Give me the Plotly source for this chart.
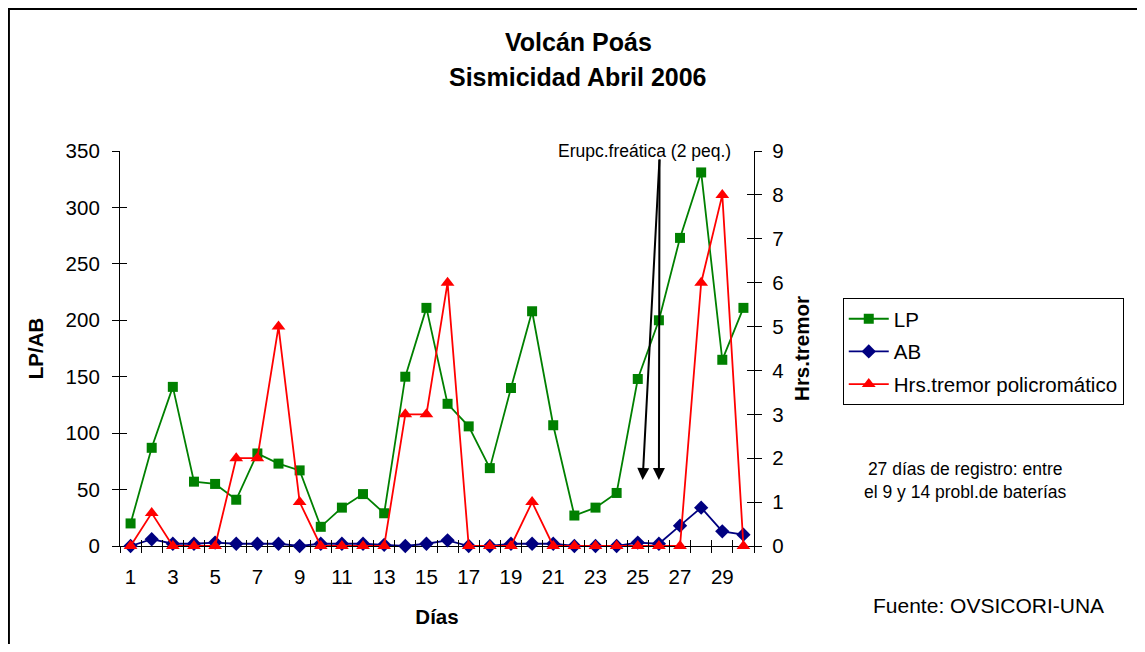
import plotly.graph_objects as go

days = list(range(1, 31))
lp = [20, 87, 141, 57, 55, 41, 82, 73, 67, 17, 34, 46, 29, 150, 211, 126, 106, 69, 140, 208,
      107, 27, 34, 47, 148, 200, 273, 331, 165, 211]
ab = [0, 6, 2, 2, 3, 2, 2, 2, 0, 2, 2, 2, 1, 0, 2, 5, 0, 0, 2, 2,
      2, 0, 0, 0, 3, 2, 18, 34, 13, 10]
tremor = [0, 0.75, 0, 0, 0, 2, 2, 5, 1, 0, 0, 0, 0, 3, 3, 6, 0, 0, 0, 1,
          0, 0, 0, 0, 0, 0, 0, 6, 8, 0]
x_labels = [1, 3, 5, 7, 9, 11, 13, 15, 17, 19, 21, 23, 25, 27, 29]
left_ticks = [0, 50, 100, 150, 200, 250, 300, 350]
right_ticks = [0, 1, 2, 3, 4, 5, 6, 7, 8, 9]
boundaries = [d - 0.5 for d in range(1, 32)]

FONT = "Liberation Sans, Arial, sans-serif"

fig = go.Figure()
fig.add_trace(go.Scatter(x=days, y=lp, name="LP", mode="lines+markers",
                         line=dict(color="#008000", width=1.8),
                         marker=dict(symbol="square", size=10, color="#008000"),
                         cliponaxis=False, legendgroup="a"))
fig.add_trace(go.Scatter(x=days, y=ab, name="AB", mode="lines+markers",
                         line=dict(color="#000080", width=1.8),
                         marker=dict(symbol="diamond", size=11, color="#000080"),
                         cliponaxis=False, legendgroup="b"))
fig.add_trace(go.Scatter(x=days, y=tremor, name="Hrs.tremor policromático", mode="lines+markers",
                         line=dict(color="#FF0000", width=1.8),
                         marker=dict(symbol="triangle-up", size=12, color="#FF0000"),
                         yaxis="y2", cliponaxis=False, legendgroup="c"))
# empty helper traces for crossing tick marks
fig.add_trace(go.Scatter(x=[], y=[], xaxis="x2", yaxis="y3", showlegend=False, hoverinfo="skip"))
fig.add_trace(go.Scatter(x=[], y=[], xaxis="x3", yaxis="y4", showlegend=False, hoverinfo="skip"))

axis_font = dict(family=FONT, size=20.5, color="black")
title_font = dict(family=FONT, size=20.5, color="black")

fig.update_layout(
    width=1137, height=636,
    margin=dict(l=112, r=391, t=143, b=98, autoexpand=False),
    paper_bgcolor="white", plot_bgcolor="white",
    font=dict(family=FONT, color="black"),
    showlegend=True,
    legend=dict(x=1.14, y=0.628, xanchor="left", yanchor="top",
                bordercolor="black", borderwidth=1, bgcolor="white",
                font=dict(family=FONT, size=20.5, color="black"),
                tracegroupgap=3, itemwidth=40),
    xaxis=dict(range=[0.5, 30.5], tickvals=x_labels, ticktext=[str(v) for v in x_labels],
               ticks="", showline=True, linecolor="black", linewidth=1.2,
               showgrid=False, zeroline=False, tickfont=axis_font,
               layer="below traces", ticklabelstandoff=12,
               title=dict(text="<b>Días</b>", font=title_font, standoff=22)),
    xaxis2=dict(range=[0.5, 30.5], overlaying="x", anchor="y", side="bottom",
                tickvals=boundaries, ticks="outside", ticklen=6, tickcolor="black",
                showticklabels=False, showline=False, showgrid=False, zeroline=False),
    xaxis3=dict(range=[0.5, 30.5], overlaying="x", anchor="y", side="bottom",
                tickvals=boundaries, ticks="inside", ticklen=6, tickcolor="black",
                showticklabels=False, showline=False, showgrid=False, zeroline=False),
    yaxis=dict(range=[0, 350], tickvals=left_ticks, ticks="outside", ticklen=7,
               tickcolor="black", showline=True, linecolor="black", linewidth=1.2,
               showgrid=False, zeroline=False, tickfont=axis_font,
               layer="below traces", ticklabelstandoff=8,
               title=dict(text="<b>LP/AB</b>", font=title_font, standoff=16)),
    yaxis2=dict(range=[0, 9], tickvals=right_ticks, overlaying="y", side="right", anchor="x",
                ticks="outside", ticklen=7, tickcolor="black", showline=True,
                linecolor="black", linewidth=1.2, showgrid=False, zeroline=False,
                tickfont=axis_font, layer="below traces", ticklabelstandoff=6,
                title=dict(text="<b>Hrs.tremor</b>", font=title_font, standoff=12)),
    yaxis3=dict(range=[0, 350], tickvals=left_ticks, overlaying="y", side="left", anchor="x",
                ticks="inside", ticklen=7, tickcolor="black", showticklabels=False,
                showline=False, showgrid=False, zeroline=False),
    yaxis4=dict(range=[0, 9], tickvals=right_ticks, overlaying="y", side="right", anchor="x",
                ticks="inside", ticklen=7, tickcolor="black", showticklabels=False,
                showline=False, showgrid=False, zeroline=False),
)

# outer frame
fig.add_shape(type="rect", xref="paper", yref="paper",
              x0=-0.1752, x1=1.612, y0=-0.4, y1=1.3595,
              line=dict(color="black", width=2), layer="above")

# titles
fig.add_annotation(text="<b>Volcán Poás</b>", xref="paper", yref="paper",
                   x=0.7224, y=1.276, xanchor="center", yanchor="middle", showarrow=False,
                   font=dict(family=FONT, size=25, color="black"))
fig.add_annotation(text="<b>Sismicidad Abril 2006</b>", xref="paper", yref="paper",
                   x=0.7224, y=1.187, xanchor="center", yanchor="middle", showarrow=False,
                   font=dict(family=FONT, size=25, color="black"))

# eruption arrows
fig.add_annotation(text="Erupc.freática (2 peq.)", xref="x", yref="y", x=25.3, y=350,
                   xanchor="center", yanchor="middle", showarrow=False,
                   font=dict(family=FONT, size=17.5, color="black"))
for hx in (25.23, 26.0):
    fig.add_annotation(x=hx, y=58.5, ax=26.03, ay=343.8, xref="x", yref="y",
                       axref="x", ayref="y", text="", showarrow=True,
                       arrowhead=2, arrowsize=1.2, arrowwidth=2, arrowcolor="black")

# notes
fig.add_annotation(text="27 días de registro: entre<br>el 9 y 14 probl.de baterías",
                   xref="paper", yref="paper", x=(965 - 120) / 634, y=1 - (480 - 151) / 395,
                   xanchor="center", yanchor="middle", showarrow=False, align="center",
                   font=dict(family=FONT, size=17.5, color="black"))
fig.add_annotation(text="Fuente: OVSICORI-UNA", xref="paper", yref="paper",
                   x=(988 - 120) / 634, y=1 - (605 - 151) / 395,
                   xanchor="center", yanchor="middle", showarrow=False,
                   font=dict(family=FONT, size=21, color="black"))

fig.write_html("out.html")
